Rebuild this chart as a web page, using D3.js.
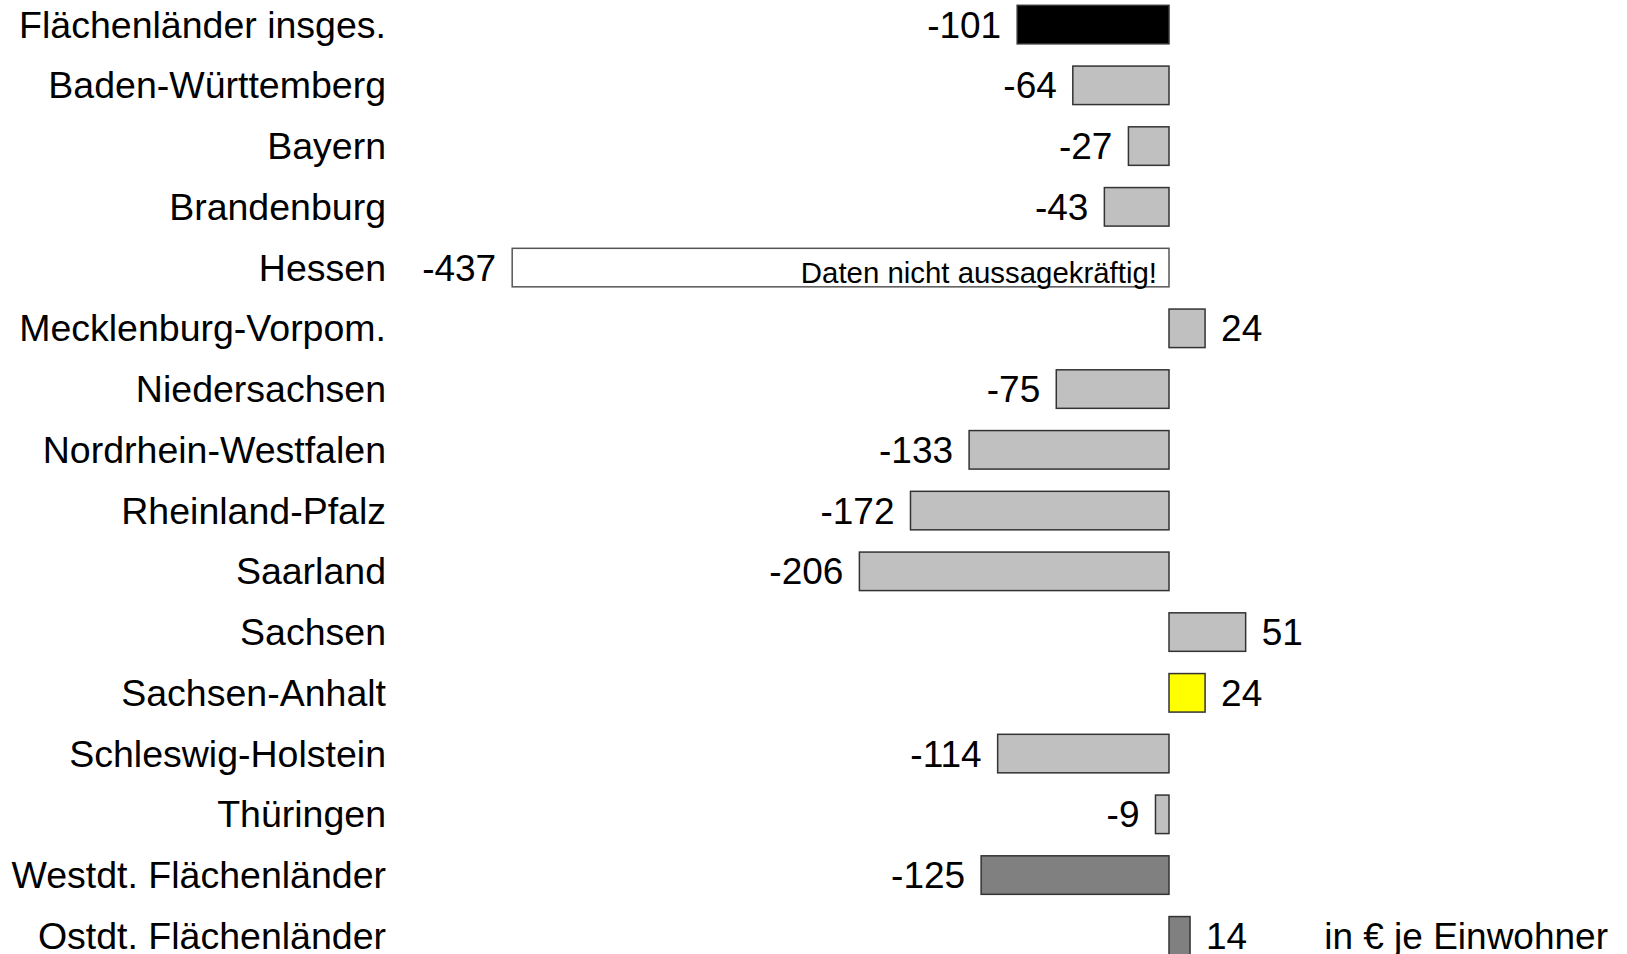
<!DOCTYPE html>
<html><head><meta charset="utf-8">
<script src="https://cdn.jsdelivr.net/npm/d3@7"></script>
<style>html,body{margin:0;padding:0;background:#fff;overflow:hidden}</style>
</head><body>
<svg id="chart" width="1627" height="954"></svg>
<script>
const categories = ["Flächenländer insges.","Baden-Württemberg","Bayern","Brandenburg","Hessen","Mecklenburg-Vorpom.","Niedersachsen","Nordrhein-Westfalen","Rheinland-Pfalz","Saarland","Sachsen","Sachsen-Anhalt","Schleswig-Holstein","Thüringen","Westdt. Flächenländer","Ostdt. Flächenländer"];
const values = [-101,-64,-27,-43,-437,24,-75,-133,-172,-206,51,24,-114,-9,-125,14];
const kinds = ["total","land","land","land","invalid","land","land","land","land","land","land","highlight","land","land","west","east"];
const invalidNote = "Daten nicht aussagekräftig!";
const unitLabel = "in € je Einwohner";

const fillByKind = {total:"#000000", land:"#c0c0c0", invalid:"#ffffff", highlight:"#ffff00", west:"#808080", east:"#808080"};
const font = "Arial, 'Liberation Sans', sans-serif";

const svg = d3.select("#chart");
const x = d3.scaleLinear().domain([-437, 51]).range([1169 - 437*1.503, 1169 + 51*1.503]);
const step = 60.75;
const y = d3.scaleBand().domain(categories).range([-5.8, -5.8 + step*categories.length]).paddingInner(0.366).paddingOuter(0.183);

const rows = categories.map((c,i)=>({c, v:values[i], k:kinds[i]}));

svg.selectAll("text.cat").data(rows).join("text")
  .attr("class","cat")
  .attr("x",386).attr("y",d=>y(d.c)+y.bandwidth()/2).attr("dy","0.35em")
  .attr("text-anchor","end").attr("font-family",font).attr("font-size",37.5).attr("fill","#000")
  .text(d=>d.c);

svg.selectAll("rect.bar").data(rows).join("rect")
  .attr("class","bar")
  .attr("x",d=>x(Math.min(0,d.v))).attr("y",d=>y(d.c))
  .attr("width",d=>Math.abs(x(d.v)-x(0))).attr("height",y.bandwidth())
  .attr("fill",d=>fillByKind[d.k])
  .attr("stroke",d=>d.k==="invalid"?"#555":"#333").attr("stroke-width",1.5);

svg.selectAll("text.val").data(rows).join("text")
  .attr("class","val")
  .attr("x",d=>d.v<0 ? x(d.v)-16 : x(d.v)+16)
  .attr("y",d=>y(d.c)+y.bandwidth()/2).attr("dy","0.35em")
  .attr("text-anchor",d=>d.v<0?"end":"start")
  .attr("font-family",font).attr("font-size",37).attr("fill","#000")
  .text(d=>d.v);

rows.filter(d=>d.k==="invalid").forEach(d=>{
  svg.append("text")
    .attr("x",x(0)-12).attr("y",y(d.c)+y.bandwidth()-4)
    .attr("text-anchor","end").attr("font-family",font).attr("font-size",29.4)
    .attr("fill","#000").text(invalidNote);
});

const last = categories[categories.length-1];
svg.append("text")
  .attr("x",1608).attr("y",y(last)+y.bandwidth()/2).attr("dy","0.35em")
  .attr("text-anchor","end").attr("font-family",font).attr("font-size",37).attr("fill","#000")
  .text(unitLabel);
</script>
</body></html>
